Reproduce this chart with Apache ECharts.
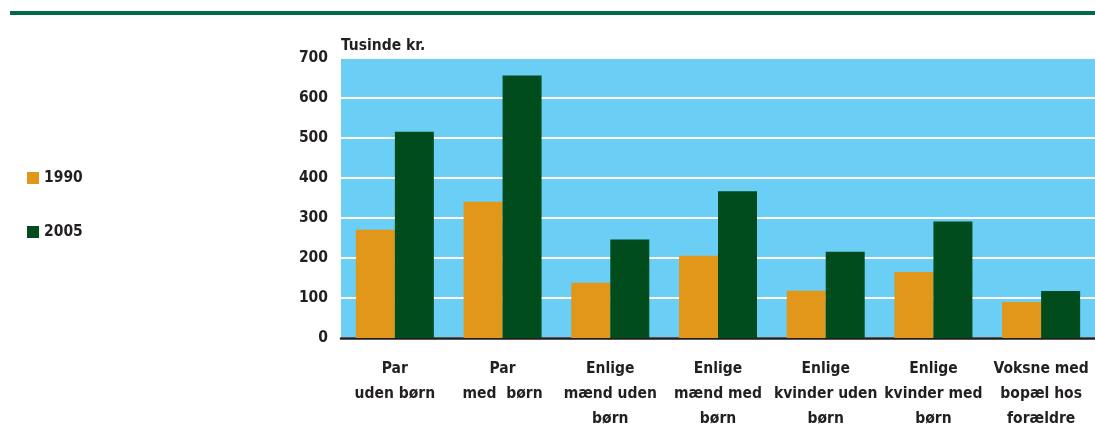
<!DOCTYPE html>
<html>
<head>
<meta charset="utf-8">
<script src="https://cdn.jsdelivr.net/npm/echarts@6/dist/echarts.min.js"></script>
<style>
  html, body { margin: 0; padding: 0; background: #fff; }
  #chart { width: 1095px; height: 435px; }
</style>
</head>
<body>
<div id="chart"></div>
<script>
// household types
const categories = [
  "Par\nuden børn",
  "Par\nmed  børn",
  "Enlige\nmænd uden\nbørn",
  "Enlige\nmænd med\nbørn",
  "Enlige\nkvinder uden\nbørn",
  "Enlige\nkvinder med\nbørn",
  "Voksne med\nbopæl hos\nforældre"
];
const values1990 = [270, 340, 138, 205, 118, 165, 90];
const values2005 = [515, 655, 246, 366, 215, 291, 117];

const FONT = "'DejaVu Sans Condensed', sans-serif";
const FSIZE = 15.5;
const TEXT = "#231f20";

const chart = echarts.init(document.getElementById("chart"));

const option = {
  animation: false,
  textStyle: { fontFamily: FONT },
  graphic: [
    {
      // green rule at the top
      type: "rect",
      shape: { x: 10, y: 11, width: 1085, height: 4 },
      style: { fill: "#006a45" },
    },
  ],
  legend: {
    orient: "vertical",
    left: 27,
    top: 170,
    padding: 0,
    itemWidth: 12,
    itemHeight: 12,
    itemGap: 38,
    icon: "rect",
    textStyle: {
      fontFamily: FONT,
      fontSize: FSIZE,
      fontWeight: "bold",
      color: TEXT,
    },
  },
  grid: {
    left: 341,
    right: 0,
    top: 57.5,
    bottom: 97,
    outerBoundsMode: "none",
    show: true,
    backgroundColor: "#6bcef5",
    borderWidth: 0,
  },
  xAxis: {
    type: "category",
    data: categories,
    axisLine: { lineStyle: { color: TEXT, width: 2.5 } },
    axisTick: { show: false },
    axisLabel: {
      interval: 0,
      margin: 18,
      fontFamily: FONT,
      fontSize: FSIZE,
      fontWeight: "bold",
      color: TEXT,
      lineHeight: 25,
    },
  },
  yAxis: {
    type: "value",
    min: 0,
    max: 700,
    interval: 100,
    name: "Tusinde kr.",
    nameLocation: "end",
    nameGap: 4,
    nameTextStyle: {
      fontFamily: FONT,
      fontSize: FSIZE,
      fontWeight: "bold",
      color: TEXT,
      align: "left",
    },
    axisLine: { show: false },
    axisTick: { show: false },
    axisLabel: {
      margin: 13,
      fontFamily: FONT,
      fontSize: FSIZE,
      fontWeight: "bold",
      color: TEXT,
    },
    splitLine: { lineStyle: { color: "#ffffff", width: 2 } },
  },
  series: [
    {
      name: "1990",
      type: "bar",
      data: values1990,
      barWidth: 39,
      barGap: "0%",
      itemStyle: { color: "#e1971a" },
    },
    {
      name: "2005",
      type: "bar",
      data: values2005,
      barWidth: 39,
      itemStyle: { color: "#004c1d" },
    },
  ],
};

chart.setOption(option);
</script>
</body>
</html>
